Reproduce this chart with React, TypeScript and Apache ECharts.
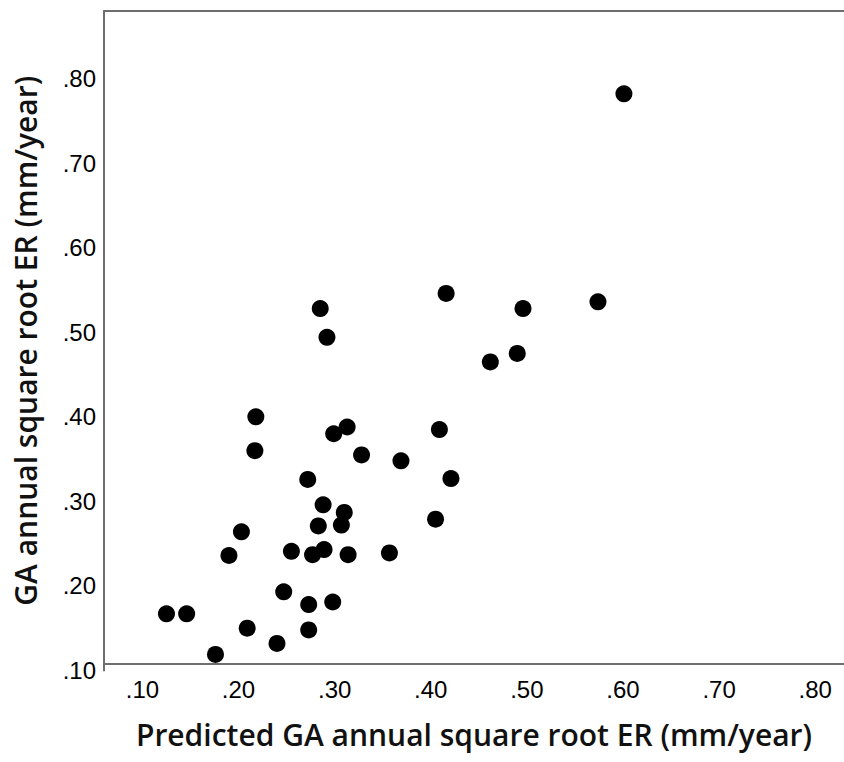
import React, { useEffect, useRef } from "react";
import * as echarts from "echarts";

const xTitle = "Predicted GA annual square root ER (mm/year)";
const yTitle = "GA annual square root ER (mm/year)";

const predicted: number[] = [
  0.218, 0.217, 0.299, 0.313, 0.328, 0.369, 0.409, 0.421, 0.272, 0.288,
  0.310, 0.307, 0.283, 0.405, 0.203, 0.190, 0.255, 0.277, 0.289, 0.314,
  0.357, 0.247, 0.273, 0.298, 0.125, 0.146, 0.209, 0.273, 0.240, 0.176,
  0.416, 0.285, 0.292, 0.496, 0.574, 0.462, 0.490, 0.601,
];
const observed: number[] = [
  0.400, 0.360, 0.380, 0.388, 0.355, 0.348, 0.385, 0.327, 0.326, 0.296,
  0.287, 0.272, 0.271, 0.279, 0.264, 0.236, 0.241, 0.237, 0.243, 0.237,
  0.239, 0.193, 0.178, 0.181, 0.167, 0.167, 0.150, 0.148, 0.132, 0.119,
  0.546, 0.528, 0.494, 0.528, 0.536, 0.465, 0.475, 0.782,
];

const fmt = (v: number) => {
  const r = Math.round(v * 10) / 10;
  if (Math.abs(v - r) > 1e-6) return "";
  return r.toFixed(2).replace(/^0/, "");
};

export default function App() {
  const ref = useRef<HTMLDivElement>(null);
  useEffect(() => {
    if (!ref.current) return;
    const chart = echarts.init(ref.current, null, { renderer: "svg" });
    const lineStyle = { color: "#6e6e6e", width: 2 };
    const labelStyle = {
      color: "#000000",
      fontFamily: "Liberation Sans, Arial, sans-serif",
      fontSize: 24,
    };
    const titleStyle = {
      color: "#111111",
      fontFamily: "Open Sans, sans-serif",
      fontWeight: 600,
      fontSize: 30,
    };
    chart.setOption({
      animation: false,
      backgroundColor: "#ffffff",
      grid: { left: 104, right: -4, top: 11, bottom: 91.5 },
      xAxis: [
        {
          type: "value",
          min: 0.06,
          max: 0.83,
          splitNumber: 8,
          offset: -6.5,
          name: xTitle,
          nameLocation: "middle",
          nameGap: 55,
          nameTextStyle: titleStyle,
          axisLine: { show: true, lineStyle },
          axisTick: { show: false },
          splitLine: { show: false },
          axisLabel: { ...labelStyle, margin: 13, formatter: fmt, showMinLabel: false, showMaxLabel: false },
        },
        {
          type: "value",
          position: "top",
          min: 0.06,
          max: 0.83,
          axisLine: { show: true, onZero: false, lineStyle },
          axisTick: { show: false },
          axisLabel: { show: false },
          splitLine: { show: false },
        },
      ],
      yAxis: {
        type: "value",
        min: 0.1,
        max: 0.88,
        interval: 0.1,
        name: yTitle,
        nameLocation: "middle",
        nameGap: 64,
        nameTextStyle: titleStyle,
        axisLine: { show: true, onZero: false, lineStyle },
        axisTick: { show: false },
        splitLine: { show: false },
        axisLabel: { ...labelStyle, margin: 8, formatter: fmt },
      },
      series: [
        {
          type: "scatter",
          xAxisIndex: 0,
          symbol: "circle",
          symbolSize: 17,
          itemStyle: { color: "#000000", opacity: 1 },
          data: predicted.map((x, i) => [x, observed[i]]),
        },
      ],
    });
    return () => chart.dispose();
  }, []);
  return (
    <div
      ref={ref}
      style={{ position: "fixed", left: 0, top: 0, width: 844, height: 762, background: "#fff" }}
    />
  );
}
